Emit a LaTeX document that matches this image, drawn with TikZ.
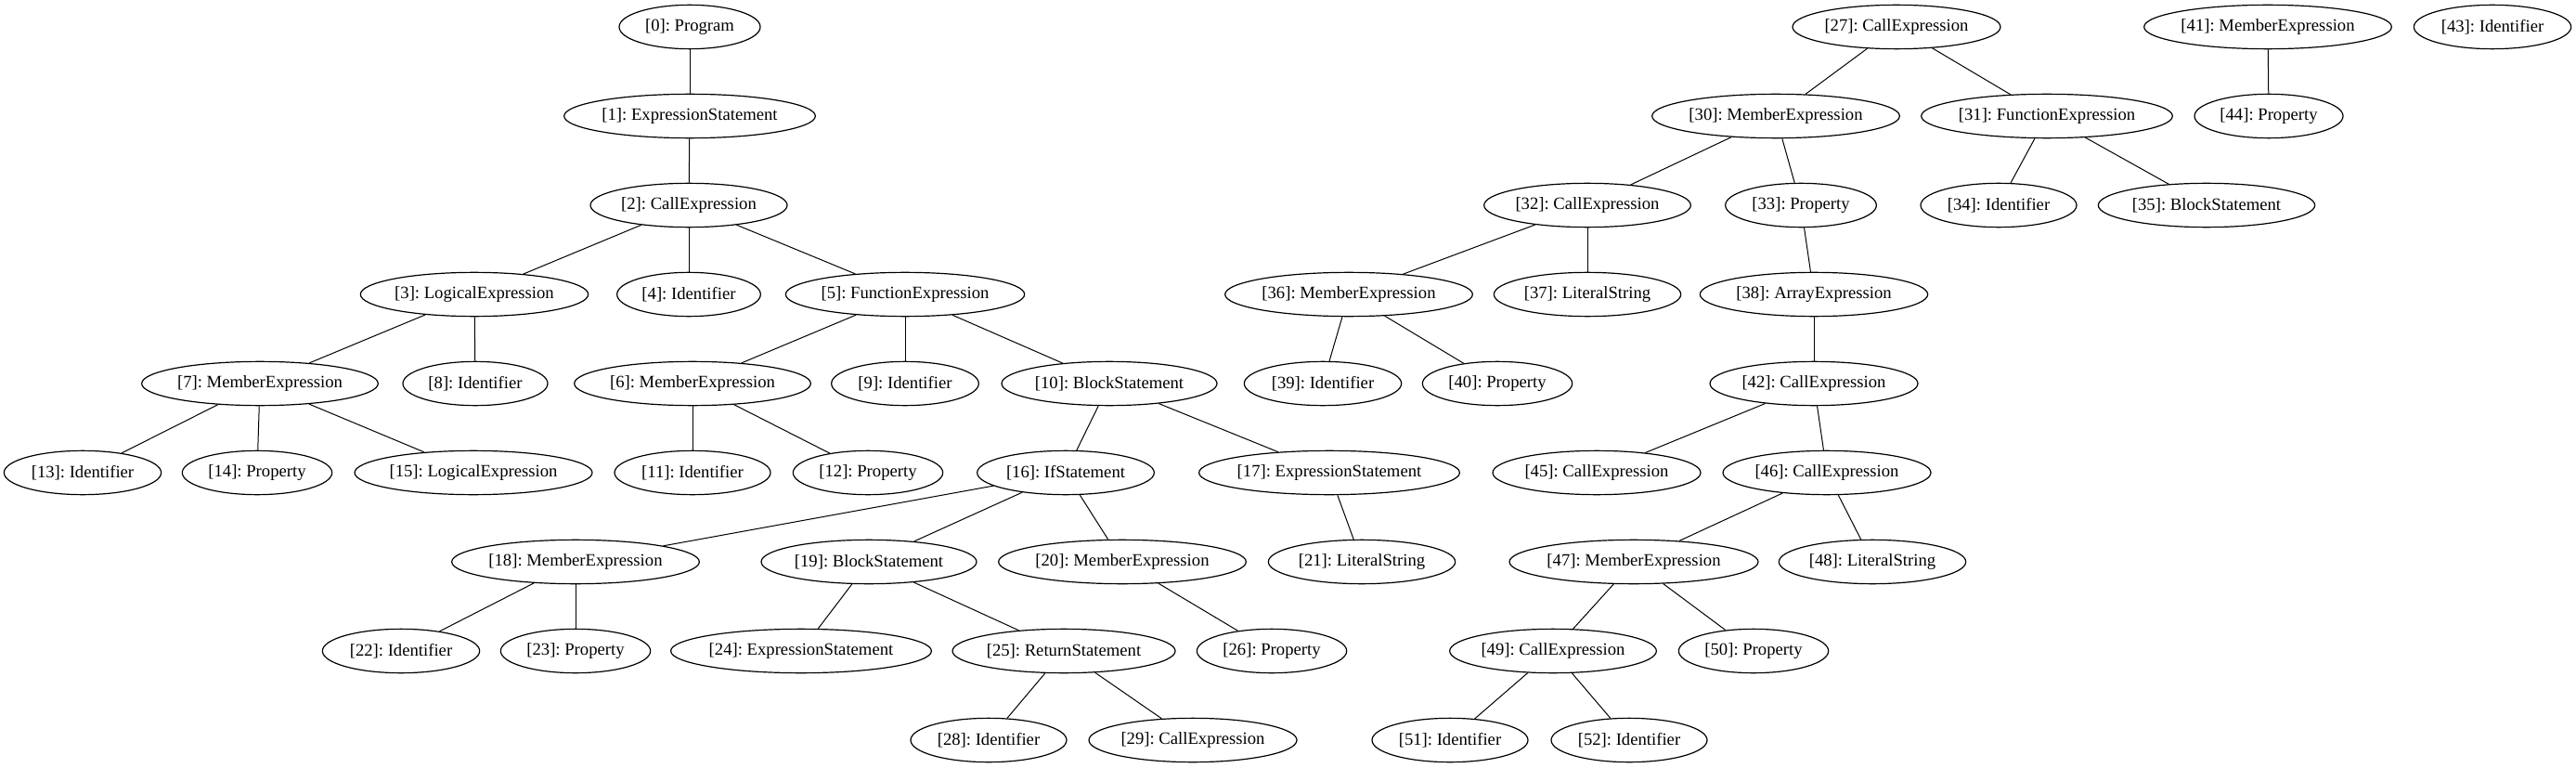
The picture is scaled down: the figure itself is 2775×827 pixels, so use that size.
\documentclass[tikz,border=0pt]{standalone}
\usepackage{fontspec}
\setmainfont{Liberation Serif}
\usetikzlibrary{shapes.geometric}
\frenchspacing
\tikzset{
  nd/.style={draw=black, line width=0.9pt, ellipse, inner sep=0pt, minimum height=35.5pt, font=\fontsize{14pt}{16pt}\selectfont},
  ed/.style={draw=black, line width=0.75pt}
}
\newcommand{\nw}[4]{\node[nd, minimum width=#3pt] (n#1) at (#2) {[#1]: #4};}
\begin{document}
\begin{tikzpicture}[x=0.75pt,y=-0.75pt]
\useasboundingbox (0,0) rectangle (2775,827);
\nw{0}{743,29}{114}{Program}
\nw{1}{743,125}{203}{ExpressionStatement}
\nw{2}{742,221}{159}{CallExpression}
\nw{3}{511,317}{184}{LogicalExpression}
\nw{4}{742,317}{116}{Identifier}
\nw{5}{975,317}{193}{FunctionExpression}
\nw{6}{746,413}{191}{MemberExpression}
\nw{7}{280,413}{191}{MemberExpression}
\nw{8}{512,413}{117}{Identifier}
\nw{9}{975,413}{119}{Identifier}
\nw{10}{1195,413}{174}{BlockStatement}
\nw{11}{746,509}{126}{Identifier}
\nw{12}{935,509}{121}{Property}
\nw{13}{89,509}{127}{Identifier}
\nw{14}{277,509}{121}{Property}
\nw{15}{510,509}{192}{LogicalExpression}
\nw{16}{1148,509}{143}{IfStatement}
\nw{17}{1432,509}{210}{ExpressionStatement}
\nw{18}{620,605}{200}{MemberExpression}
\nw{19}{936,605}{174}{BlockStatement}
\nw{20}{1209,605}{200}{MemberExpression}
\nw{21}{1467,605}{151}{LiteralString}
\nw{22}{432,701}{127}{Identifier}
\nw{23}{620,701}{121}{Property}
\nw{24}{863,701}{209}{ExpressionStatement}
\nw{25}{1146,701}{180}{ReturnStatement}
\nw{26}{1370,701}{121}{Property}
\nw{27}{2043,29}{168}{CallExpression}
\nw{28}{1065,797}{126}{Identifier}
\nw{29}{1285,797}{168}{CallExpression}
\nw{30}{1913,125}{200}{MemberExpression}
\nw{31}{2205,125}{203}{FunctionExpression}
\nw{32}{1710,221}{167}{CallExpression}
\nw{33}{1940,221}{122}{Property}
\nw{34}{2153,221}{126}{Identifier}
\nw{35}{2377,221}{175}{BlockStatement}
\nw{36}{1453,317}{200}{MemberExpression}
\nw{37}{1710,317}{151}{LiteralString}
\nw{38}{1954,317}{184}{ArrayExpression}
\nw{39}{1425,413}{127}{Identifier}
\nw{40}{1613,413}{121}{Property}
\nw{41}{2443,29}{200}{MemberExpression}
\nw{42}{1954,413}{168}{CallExpression}
\nw{43}{2685,29}{127}{Identifier}
\nw{44}{2444,125}{120}{Property}
\nw{45}{1720,509}{168}{CallExpression}
\nw{46}{1968,509}{168}{CallExpression}
\nw{47}{1760,605}{201}{MemberExpression}
\nw{48}{2017,605}{151}{LiteralString}
\nw{49}{1673,701}{167}{CallExpression}
\nw{50}{1889,701}{121}{Property}
\nw{51}{1562,797}{126}{Identifier}
\nw{52}{1755,797}{126}{Identifier}
\foreach \a/\b in {0/1,1/2,2/3,2/4,2/5,3/7,3/8,5/6,5/9,5/10,7/13,7/14,7/15,6/11,6/12,10/16,10/17,16/18,16/19,16/20,17/21,18/22,18/23,19/24,19/25,20/26,25/28,25/29,27/30,27/31,30/32,30/33,31/34,31/35,32/36,32/37,33/38,36/39,36/40,38/42,42/45,42/46,46/47,46/48,47/49,47/50,49/51,49/52,41/44}
  \draw[ed] (n\a) -- (n\b);
\end{tikzpicture}
\end{document}
